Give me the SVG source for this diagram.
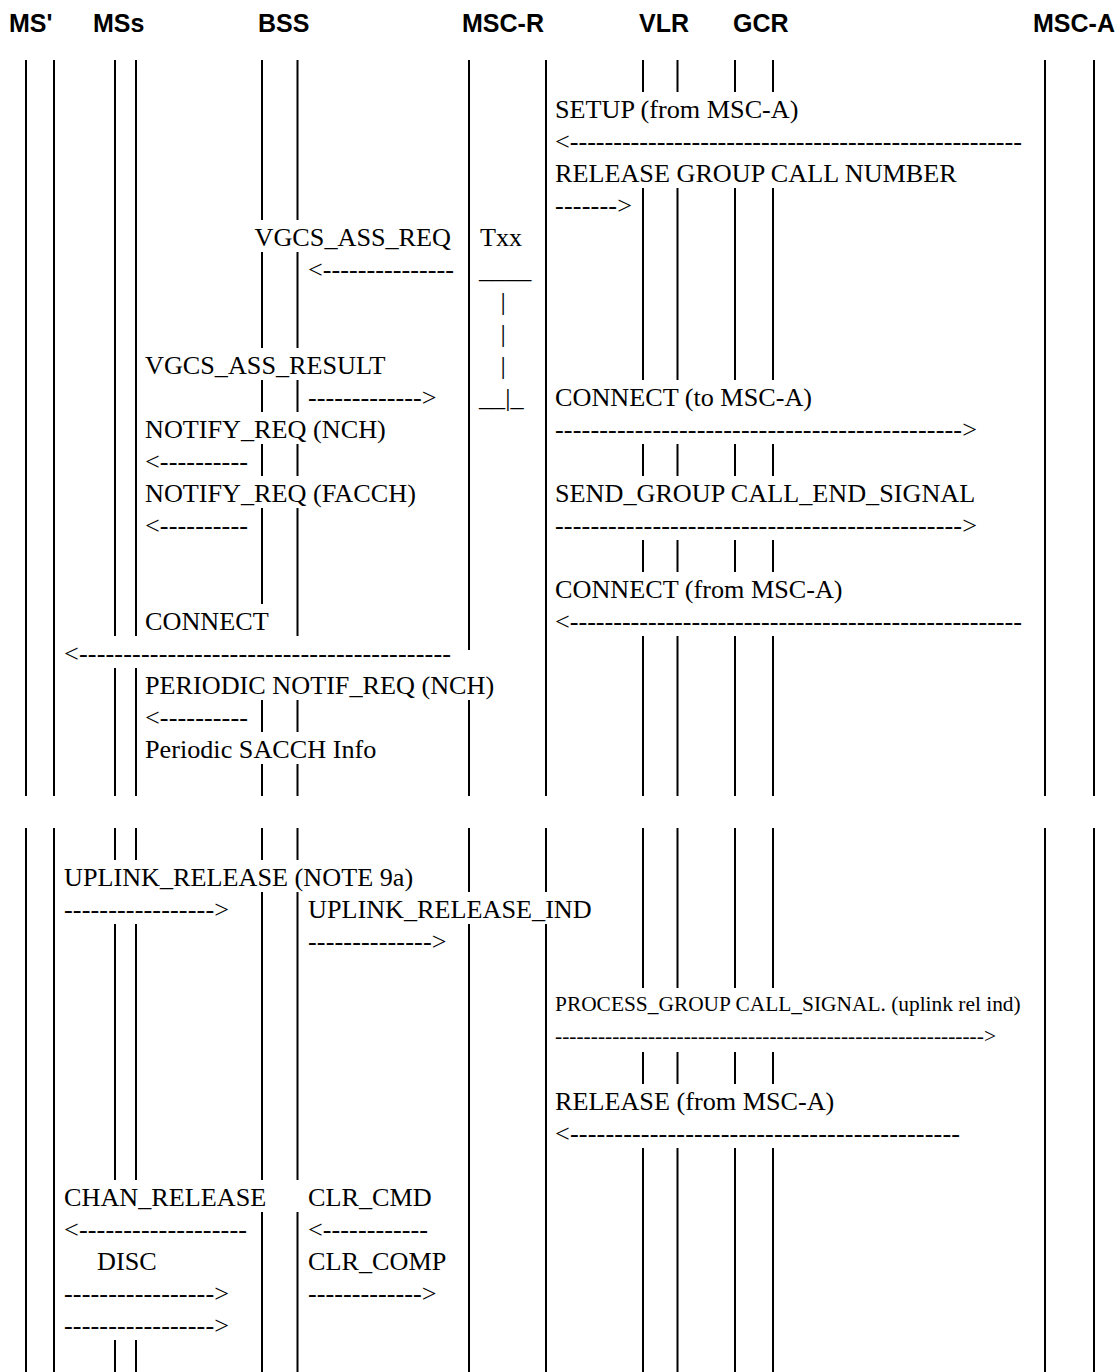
<svg xmlns="http://www.w3.org/2000/svg" width="1117" height="1372" viewBox="0 0 1117 1372">
<style>
.hdr{font-family:"Liberation Sans",Arial,sans-serif;font-weight:bold;font-size:25px;fill:#000}
.t{font-family:"Liberation Serif","Times New Roman",serif;font-size:26.2px;fill:#000}
.s{font-family:"Liberation Serif","Times New Roman",serif;font-size:21.4px;fill:#000}
.ll{stroke:#000;stroke-width:2;fill:none}
</style>
<rect width="1117" height="1372" fill="#fff"/>
<g id="node-MS1">
<text class="hdr" x="9" y="32">MS'</text>
<path class="ll" d="M26 60V796M26 828V1372M54 60V796M54 828V1372"/>
</g>
<g id="node-MSs">
<text class="hdr" x="93" y="32">MSs</text>
<path class="ll" d="M115 60V636M115 668V796M115 828V860M115 924V1180M115 1340V1372M136 60V636M136 668V796M136 828V860M136 924V1180M136 1340V1372"/>
</g>
<g id="node-BSS">
<text class="hdr" x="258" y="32">BSS</text>
<path class="ll" d="M262 60V220M262 252V348M262 380V412M262 444V476M262 508V604M262 700V732M262 764V796M262 828V860M262 892V1180M262 1212V1372"/>
<path class="ll" d="M297.5 60V220M297.5 252V348M297.5 380V412M297.5 444V476M297.5 508V636M297.5 700V732M297.5 764V796M297.5 828V860M297.5 892V1180M297.5 1212V1372"/>
</g>
<g id="node-MSC-R">
<text class="hdr" x="462" y="32">MSC-R</text>
<path class="ll" d="M469 60V650M469 700V796M469 828V892M469 924V1372M546 60V796M546 828V892M546 924V1372"/>
</g>
<g id="node-VLR">
<text class="hdr" x="639" y="32">VLR</text>
<path class="ll" d="M643 60V92M643 188V380M643 444V476M643 540V572M643 636V796M643 828V988M643 1052V1084M643 1148V1372M677.5 60V92M677.5 188V380M677.5 444V476M677.5 540V572M677.5 636V796M677.5 828V988M677.5 1052V1084M677.5 1148V1372"/>
</g>
<g id="node-GCR">
<text class="hdr" x="733" y="32">GCR</text>
<path class="ll" d="M735 60V92M735 188V380M735 444V476M735 540V572M735 636V796M735 828V988M735 1052V1084M735 1148V1372M773 60V92M773 188V380M773 444V476M773 540V572M773 636V796M773 828V988M773 1052V1084M773 1148V1372"/>
</g>
<g id="node-MSC-A">
<text class="hdr" x="1033" y="32">MSC-A</text>
<path class="ll" d="M1045 60V796M1045 828V1372M1094 60V796M1094 828V1372"/>
</g>
<g id="timer-Txx">
<text class="t" x="480" y="245.5">Txx</text>
<text class="t" x="479" y="277.5">____</text>
<text class="t" x="503" y="309.5" text-anchor="middle">|</text>
<text class="t" x="503" y="341.5" text-anchor="middle">|</text>
<text class="t" x="503" y="373.5" text-anchor="middle">|</text>
<text class="t" x="479" y="405.5">__|_</text>
</g>
<g id="labels">
<text class="t" x="555" y="117.5">SETUP (from MSC-A)</text>
<text class="t" x="555" y="181.5">RELEASE GROUP CALL NUMBER</text>
<text class="t" x="451" y="245.5" text-anchor="end">VGCS_ASS_REQ</text>
<text class="t" x="145" y="373.5">VGCS_ASS_RESULT</text>
<text class="t" x="555" y="405.5">CONNECT (to MSC-A)</text>
<text class="t" x="145" y="437.5">NOTIFY_REQ (NCH)</text>
<text class="t" x="145" y="501.5">NOTIFY_REQ (FACCH)</text>
<text class="t" x="555" y="501.5">SEND_GROUP CALL_END_SIGNAL</text>
<text class="t" x="555" y="597.5">CONNECT (from MSC-A)</text>
<text class="t" x="145" y="629.5">CONNECT</text>
<text class="t" x="145" y="693.5">PERIODIC NOTIF_REQ (NCH)</text>
<text class="t" x="145" y="757.5">Periodic SACCH Info</text>
<text class="t" x="64" y="885.5">UPLINK_RELEASE (NOTE 9a)</text>
<text class="t" x="308" y="917.5">UPLINK_RELEASE_IND</text>
<text class="s" x="555" y="1011">PROCESS_GROUP CALL_SIGNAL. (uplink rel ind)</text>
<text class="t" x="555" y="1109.5">RELEASE (from MSC-A)</text>
<text class="t" x="64" y="1205.5">CHAN_RELEASE</text>
<text class="t" x="308" y="1205.5">CLR_CMD</text>
<text class="t" x="97" y="1269.5">DISC</text>
<text class="t" x="308" y="1269.5">CLR_COMP</text>
</g>
<g id="connectors">
<text class="t" x="555" y="149.5" textLength="467">&lt;----------------------------------------------------</text>
<text class="t" x="555" y="213.5" textLength="77">-------&gt;</text>
<text class="t" x="308" y="277.5" textLength="146">&lt;---------------</text>
<text class="t" x="308" y="405.5" textLength="128.5">-------------&gt;</text>
<text class="t" x="555" y="437.5" textLength="422">----------------------------------------------&gt;</text>
<text class="t" x="145" y="469.5" textLength="103">&lt;----------</text>
<text class="t" x="145" y="533.5" textLength="103">&lt;----------</text>
<text class="t" x="555" y="533.5" textLength="422">----------------------------------------------&gt;</text>
<text class="t" x="555" y="629.5" textLength="467">&lt;----------------------------------------------------</text>
<text class="t" x="64" y="661.5" textLength="387">&lt;------------------------------------------</text>
<text class="t" x="145" y="725.5" textLength="103">&lt;----------</text>
<text class="t" x="64" y="917.5" textLength="165">-----------------&gt;</text>
<text class="t" x="308" y="949.5" textLength="138.5">--------------&gt;</text>
<text class="s" x="555" y="1043" textLength="441">------------------------------------------------------------&gt;</text>
<text class="t" x="555" y="1141.5" textLength="405">&lt;--------------------------------------------</text>
<text class="t" x="64" y="1237.5" textLength="183">&lt;-------------------</text>
<text class="t" x="308" y="1237.5" textLength="120">&lt;------------</text>
<text class="t" x="64" y="1301.5" textLength="165">-----------------&gt;</text>
<text class="t" x="308" y="1301.5" textLength="128.5">-------------&gt;</text>
<text class="t" x="64" y="1333.5" textLength="165">-----------------&gt;</text>
</g>
</svg>
